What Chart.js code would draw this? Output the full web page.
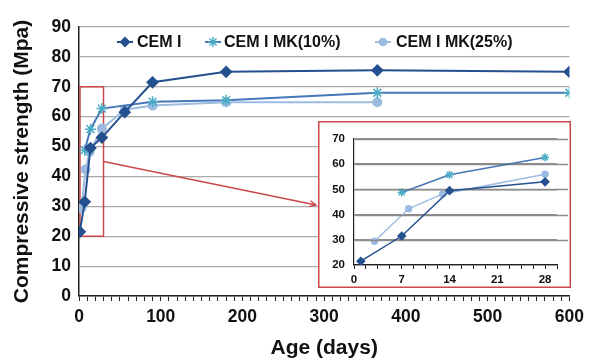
<!DOCTYPE html>
<html>
<head>
<meta charset="utf-8">
<script src="https://cdn.jsdelivr.net/npm/chart.js@4.4.1/dist/chart.umd.min.js"></script>
<style>
  html, body { margin: 0; padding: 0; background: #fff; }
  #wrap { position: relative; width: 590px; height: 361px; }
  #main { position: absolute; left: 0; top: 0; }
  #inset { position: absolute; left: 318px; top: 121px; background: #fff; }
</style>
</head>
<body>
<div id="wrap">
  <canvas id="main" width="590" height="361"></canvas>
  <canvas id="inset" width="253" height="167"></canvas>
</div>
<script>
// ---- data ----
const seriesNames = ['CEM I', 'CEM I MK(10%)', 'CEM I MK(25%)'];
const ageCEM  = [1, 7, 14, 28, 56, 90, 180, 365, 600];
const cemI    = [21.5, 31.5, 49.5, 53, 61.5, 71.5, 75, 75.5, 75];
const ageMK10 = [7, 14, 28, 90, 180, 365, 600];
const mk10    = [48.8, 55.8, 62.7, 65, 65.5, 68, 68];
const ageMK25 = [3, 8, 13, 28, 56, 90, 180, 365];
const mk25    = [29.4, 42.3, 48.2, 56, 62.3, 63.7, 64.8, 64.8];
const mainXTicks = [0, 100, 200, 300, 400, 500, 600];
const mainYTicks = [0, 10, 20, 30, 40, 50, 60, 70, 80, 90];
const insetXTicks = [0, 7, 14, 21, 28];
const insetYTicks = [20, 30, 40, 50, 60, 70];
const zoomBox = { x0: 0, x1: 30, y0: 20, y1: 70, arrowY: 45 };

const FONT = '"Liberation Sans", Arial, sans-serif';
const C_CEM = '#25508f', C_MK10 = '#4677b8', C_MK10P = '#4bacc6', C_MK25 = '#9dbbe0';
const RED = '#c9474a';
const GRID = '#a9a9a9';
const INSET_GRID = '#8c8c8c';

function pts(xs, ys, maxX) {
  const out = [];
  for (let i = 0; i < xs.length; i++) if (maxX === undefined || xs[i] <= maxX) out.push({ x: xs[i], y: ys[i] });
  return out;
}

function makeDatasets(maxX, scale) {
  return [
    { label: seriesNames[0], data: pts(ageCEM, cemI, maxX), borderColor: C_CEM, backgroundColor: C_CEM,
      borderWidth: 2 * scale, pointStyle: 'rectRot', pointRadius: 5 * scale, pointHoverRadius: 5 * scale, fill: false },
    { label: seriesNames[1], data: pts(ageMK10, mk10, maxX), borderColor: C_MK10, backgroundColor: C_MK10P,
      pointBorderColor: C_MK10P, pointBorderWidth: 1.5, borderWidth: 2 * scale, pointStyle: 'star',
      pointRadius: 5.5 * scale, pointHoverRadius: 5.5 * scale, fill: false },
    { label: seriesNames[2], data: pts(ageMK25, mk25, maxX), borderColor: C_MK25, backgroundColor: C_MK25,
      borderWidth: 2 * scale, pointStyle: 'circle', pointRadius: 4 * scale, pointHoverRadius: 4 * scale, fill: false }
  ];
}

const mainDecor = {
  id: 'mainDecor',
  beforeDatasetsDraw(chart) {
    const { ctx, scales: { x, y } } = chart;
    ctx.save();
    ctx.strokeStyle = RED; ctx.lineWidth = 1.5;
    const l = x.getPixelForValue(zoomBox.x0) + 1, r = x.getPixelForValue(zoomBox.x1);
    const t = y.getPixelForValue(zoomBox.y1), b = y.getPixelForValue(zoomBox.y0);
    ctx.strokeRect(l, t, r - l, b - t);
    ctx.restore();
  },
  afterDraw(chart) {
    const { ctx, scales: { x, y } } = chart;
    ctx.save();
    const sx = x.getPixelForValue(zoomBox.x1), sy = y.getPixelForValue(zoomBox.arrowY);
    const ex = 316, ey = 205;
    ctx.strokeStyle = RED; ctx.lineWidth = 1.3;
    ctx.beginPath(); ctx.moveTo(sx, sy); ctx.lineTo(ex, ey); ctx.stroke();
    const ang = Math.atan2(ey - sy, ex - sx);
    ctx.beginPath();
    ctx.moveTo(ex - 7 * Math.cos(ang - 0.45), ey - 7 * Math.sin(ang - 0.45));
    ctx.lineTo(ex, ey);
    ctx.lineTo(ex - 7 * Math.cos(ang + 0.45), ey - 7 * Math.sin(ang + 0.45));
    ctx.stroke();
    const items = [
      { cx: 125, tx: 137 }, { cx: 213, tx: 224 }, { cx: 383, tx: 396 }
    ];
    const ly = 42;
    ctx.font = 'bold 16px ' + FONT;
    ctx.textBaseline = 'middle';
    chart.data.datasets.forEach((ds, i) => {
      const it = items[i];
      ctx.strokeStyle = ds.borderColor; ctx.lineWidth = 2;
      ctx.beginPath(); ctx.moveTo(it.cx - 8, ly); ctx.lineTo(it.cx + 8, ly); ctx.stroke();
      ctx.fillStyle = ds.backgroundColor; ctx.strokeStyle = ds.pointBorderColor || ds.backgroundColor;
      ctx.lineWidth = 1.5;
      Chart.helpers.drawPoint(ctx, { pointStyle: ds.pointStyle, radius: ds.pointRadius * 0.9, rotation: 0, borderWidth: 1.5 }, it.cx, ly);
      ctx.fillStyle = '#111';
      ctx.fillText(ds.label, it.tx, ly + 1);
    });
    ctx.restore();
  }
};

new Chart(document.getElementById('main'), {
  type: 'line',
  data: { datasets: makeDatasets(undefined, 1) },
  options: {
    responsive: false, animation: false,
    layout: { padding: { top: 27, right: 20, left: 0, bottom: 0 } },
    plugins: { legend: { display: false }, tooltip: { enabled: false } },
    elements: { line: { tension: 0 } },
    scales: {
      x: {
        type: 'linear', min: 0, max: 600,
        afterFit(s) { s.height = 65; },
        ticks: { stepSize: 10, autoSkip: false, maxRotation: 0, padding: 6,
          color: '#111', font: { family: FONT, size: 17.5, weight: 'bold' },
          callback: v => mainXTicks.includes(v) ? String(v) : '' },
        grid: { drawOnChartArea: false, drawTicks: true, tickLength: 5, tickColor: '#222', lineWidth: 1 },
        border: { color: '#222', width: 1.5 },
        title: { display: true, text: 'Age (days)', color: '#111',
          font: { family: FONT, size: 21, weight: 'bold' }, padding: { top: 0, bottom: 0 } }
      },
      y: {
        type: 'linear', min: 0, max: 90,
        afterFit(s) { s.width = 79; },
        afterBuildTicks(s) { s.ticks = mainYTicks.map(v => ({ value: v })); },
        ticks: { padding: 8, color: '#111', font: { family: FONT, size: 17.5, weight: 'bold' } },
        grid: { color: GRID, lineWidth: 1.2, drawTicks: false },
        border: { color: '#222', width: 1.5 },
        title: { display: true, text: 'Compressive strength (Mpa)', color: '#111',
          font: { family: FONT, size: 21, weight: 'bold' }, padding: { top: 10, bottom: 0 } }
      }
    }
  },
  plugins: [mainDecor]
});

const insetDecor = {
  id: 'insetDecor',
  afterDraw(chart) {
    const { ctx, width, height, chartArea, scales: { y } } = chart;
    ctx.save();
    ctx.globalCompositeOperation = 'darken';
    ctx.strokeStyle = INSET_GRID; ctx.lineWidth = 1.4;
    insetYTicks.forEach(v => {
      if (v === insetYTicks[0]) return;
      const py = Math.round(y.getPixelForValue(v)) + 0.5;
      ctx.beginPath(); ctx.moveTo(chartArea.left + 1, py); ctx.lineTo(chartArea.right + 11, py); ctx.stroke();
    });
    ctx.restore();
    ctx.save();
    ctx.strokeStyle = RED; ctx.lineWidth = 1.5;
    ctx.strokeRect(0.75, 0.75, width - 1.5, height - 1.5);
    ctx.restore();
  }
};

new Chart(document.getElementById('inset'), {
  type: 'line',
  data: { datasets: makeDatasets(28, 0.75) },
  options: {
    responsive: false, animation: false,
    layout: { padding: { top: 18, right: 14, left: 0, bottom: 0 } },
    plugins: { legend: { display: false }, tooltip: { enabled: false } },
    elements: { line: { tension: 0 } },
    scales: {
      x: {
        type: 'linear', min: 0, max: 29.75,
        afterFit(s) { s.height = 23; },
        ticks: { stepSize: 1.75, autoSkip: false, maxRotation: 0, padding: 4,
          color: '#111', font: { family: FONT, size: 11.5, weight: 'bold' },
          callback: v => insetXTicks.some(t => Math.abs(t - v) < 1e-6) ? String(Math.round(v)) : '' },
        grid: { drawOnChartArea: false, drawTicks: true, tickLength: 4, tickColor: '#222', lineWidth: 1 },
        border: { color: '#222', width: 1.2 }
      },
      y: {
        type: 'linear', min: 20, max: 70,
        afterFit(s) { s.width = 36; },
        afterBuildTicks(s) { s.ticks = insetYTicks.map(v => ({ value: v })); },
        ticks: { padding: 9, color: '#111', font: { family: FONT, size: 11.5, weight: 'bold' } },
        grid: { color: INSET_GRID, lineWidth: 1.4, drawTicks: false },
        border: { color: '#222', width: 1.2 }
      }
    }
  },
  plugins: [insetDecor]
});
</script>
</body>
</html>
